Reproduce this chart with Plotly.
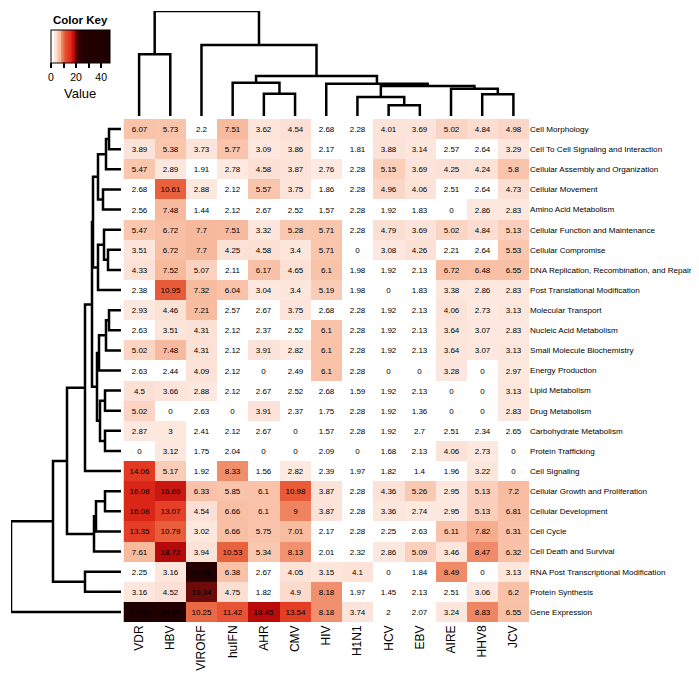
import plotly.graph_objects as go

FONT = "Liberation Sans, Arial, Helvetica, sans-serif"

columns = ["VDR", "HBV", "VIRORF", "huIFN", "AHR", "CMV", "HIV", "H1N1",
           "HCV", "EBV", "AIRE", "HHV8", "JCV"]

rows = ["Cell Morphology", "Cell To Cell Signaling and Interaction",
        "Cellular Assembly and Organization", "Cellular Movement",
        "Amino Acid Metabolism", "Cellular Function and Maintenance",
        "Cellular Compromise", "DNA Replication, Recombination, and Repair",
        "Post Translational Modification", "Molecular Transport",
        "Nucleic Acid Metabolism", "Small Molecule Biochemistry",
        "Energy Production", "Lipid Metabolism", "Drug Metabolism",
        "Carbohydrate Metabolism", "Protein Trafficking", "Cell Signaling",
        "Cellular Growth and Proliferation", "Cellular Development",
        "Cell Cycle", "Cell Death and Survival",
        "RNA Post Transcriptional Modification", "Protein Synthesis",
        "Gene Expression"]

values = [
    [6.07, 5.73, 2.2, 7.51, 3.62, 4.54, 2.68, 2.28, 4.01, 3.69, 5.02, 4.84, 4.98],
    [3.89, 5.38, 3.73, 5.77, 3.09, 3.86, 2.17, 1.81, 3.88, 3.14, 2.57, 2.64, 3.29],
    [5.47, 2.89, 1.91, 2.78, 4.58, 3.87, 2.76, 2.28, 5.15, 3.69, 4.25, 4.24, 5.8],
    [2.68, 10.61, 2.88, 2.12, 5.57, 3.75, 1.86, 2.28, 4.96, 4.06, 2.51, 2.64, 4.73],
    [2.56, 7.48, 1.44, 2.12, 2.67, 2.52, 1.57, 2.28, 1.92, 1.83, 0, 2.86, 2.83],
    [5.47, 6.72, 7.7, 7.51, 3.32, 5.28, 5.71, 2.28, 4.79, 3.69, 5.02, 4.84, 5.13],
    [3.51, 6.72, 7.7, 4.25, 4.58, 3.4, 5.71, 0, 3.08, 4.26, 2.21, 2.64, 5.53],
    [4.33, 7.52, 5.07, 2.11, 6.17, 4.65, 6.1, 1.98, 1.92, 2.13, 6.72, 6.48, 6.55],
    [2.38, 10.95, 7.32, 6.04, 3.04, 3.4, 5.19, 1.98, 0, 1.83, 3.38, 2.86, 2.83],
    [2.93, 4.46, 7.21, 2.57, 2.67, 3.75, 2.68, 2.28, 1.92, 2.13, 4.06, 2.73, 3.13],
    [2.63, 3.51, 4.31, 2.12, 2.37, 2.52, 6.1, 2.28, 1.92, 2.13, 3.64, 3.07, 2.83],
    [5.02, 7.48, 4.31, 2.12, 3.91, 2.82, 6.1, 2.28, 1.92, 2.13, 3.64, 3.07, 3.13],
    [2.63, 2.44, 4.09, 2.12, 0, 2.49, 6.1, 2.28, 0, 0, 3.28, 0, 2.97],
    [4.5, 3.66, 2.88, 2.12, 2.67, 2.52, 2.68, 1.59, 1.92, 2.13, 0, 0, 3.13],
    [5.02, 0, 2.63, 0, 3.91, 2.37, 1.75, 2.28, 1.92, 1.36, 0, 0, 2.83],
    [2.87, 3, 2.41, 2.12, 2.67, 0, 1.57, 2.28, 1.92, 2.7, 2.51, 2.34, 2.65],
    [0, 3.12, 1.75, 2.04, 0, 0, 2.09, 0, 1.68, 2.13, 4.06, 2.73, 0],
    [14.06, 5.17, 1.92, 8.33, 1.56, 2.82, 2.39, 1.97, 1.82, 1.4, 1.96, 3.22, 0],
    [16.08, 16.86, 6.33, 5.85, 6.1, 10.98, 3.87, 2.28, 4.36, 5.26, 2.95, 5.13, 7.2],
    [16.08, 13.07, 4.54, 6.66, 6.1, 9, 3.87, 2.28, 3.36, 2.74, 2.95, 5.13, 6.81],
    [13.35, 10.79, 3.02, 6.66, 5.75, 7.01, 2.17, 2.28, 2.25, 2.63, 6.11, 7.82, 6.31],
    [7.61, 18.72, 3.94, 10.53, 5.34, 8.13, 2.01, 2.32, 2.86, 5.09, 3.46, 8.47, 6.32],
    [2.25, 3.16, 25.58, 6.38, 2.67, 4.05, 3.15, 4.1, 0, 1.84, 8.49, 0, 3.13],
    [3.16, 4.52, 19.34, 4.75, 1.82, 4.9, 8.18, 1.97, 1.45, 2.13, 2.51, 3.06, 6.2],
    [47.03, 34.95, 10.25, 11.42, 18.45, 13.54, 8.18, 3.74, 2, 2.07, 3.24, 8.83, 6.55],
]

# dendrograms: (merge height, left, right); ints are leaf indices
col_tree = (315, (185, 0, 1),
            (213, 2,
             (120, (100, 3, (67, 4, 5)),
              (97, 6, (90, (57, 7, (32, 8, 9)), (82, 10, (65, 11, 12)))))))

row_tree = (110,
            (68,
             (54,
              (36,
               (29,
                (28, (23, (15, (12, 0, 1), 2), (18, 3, 4)),
                 (23, (17, 5, (13, 6, 7)), 8)),
                (24, (22, (15, (12, 9, 10), 11), 12),
                 (21, (16, 13, 14), (16, 15, 16)))),
               17),
              (27, (25, (16, 18, 19), 20), 21)),
             (36, 22, 23)),
            24)

key_ticks = [0, 10, 20, 30, 40]
key_labels = ["0", "", "20", "", "40"]

# colour ramp: (value, colour)
ramp = [(0, "#ffffff"), (2.70, "#ffffff"), (2.72, "#fde9e0"), (4.8, "#fcdfd3"),
        (5.3, "#fac7af"), (7.7, "#f7b99c"), (8.1, "#f1916f"), (9.5, "#ed7b58"),
        (10.6, "#e9603c"), (12, "#e64a2f"), (14, "#e33a22"), (16, "#dc2818"),
        (17, "#c81410"), (18.7, "#b80a0a"), (19.3, "#6e0a0a"), (22, "#3a0303"),
        (25, "#250000"), (47.03, "#1e0000")]

W, H = 699, 677
zmax = max(max(r) for r in values)
colorscale = [[v / zmax, c] for v, c in ramp]


def dendro_segments(node, segs):
    if isinstance(node, int):
        return float(node), 0.0
    h, l, r = node
    xl, hl = dendro_segments(l, segs)
    xr, hr = dendro_segments(r, segs)
    segs.append(((xl, hl), (xl, h), (xr, h), (xr, hr)))
    return (xl + xr) / 2, h


def to_xy(segs, swap=False):
    xs, ys = [], []
    for seg in segs:
        for a, b in seg:
            if swap:
                xs.append(b); ys.append(a)
            else:
                xs.append(a); ys.append(b)
        xs.append(None); ys.append(None)
    return xs, ys


col_segs, row_segs = [], []
dendro_segments(col_tree, col_segs)
dendro_segments(row_tree, row_segs)
cx, cy = to_xy(col_segs)
rx, ry = to_xy(row_segs, swap=True)

text = [[f"{v:g}" for v in r] for r in values]

fig = go.Figure()
fig.add_trace(go.Heatmap(
    z=values, x=list(range(len(columns))), y=list(range(len(rows))),
    text=text, texttemplate="%{text}",
    textfont=dict(family=FONT, size=8, color="black"),
    colorscale=colorscale, zmin=0, zmax=zmax, hoverinfo="skip",
    colorbar=dict(orientation="h", x=72.5 / W, xanchor="center",
                  y=1 - 22 / H, yanchor="top", len=59, lenmode="pixels",
                  thickness=33, thicknessmode="pixels", xpad=0, ypad=0,
                  outlinewidth=1, outlinecolor="black",
                  tickvals=key_ticks, ticktext=key_labels, ticks="outside",
                  ticklen=5, tickwidth=2, tickcolor="black",
                  tickfont=dict(family=FONT, size=10.5, color="black")),
))
fig.add_trace(go.Scatter(x=cx, y=cy, mode="lines", xaxis="x2", yaxis="y2",
                         line=dict(color="black", width=2.5), hoverinfo="skip",
                         showlegend=False))
fig.add_trace(go.Scatter(x=rx, y=ry, mode="lines", xaxis="x3", yaxis="y3",
                         line=dict(color="black", width=2.5), hoverinfo="skip",
                         showlegend=False))

gx0, gx1 = 115.5 / W, 521 / W
gy0, gy1 = 1 - 614 / H, 1 - 111 / H

fig.update_layout(
    width=W, height=H, margin=dict(l=0, r=0, t=0, b=0),
    paper_bgcolor="white", plot_bgcolor="white", showlegend=False,
    xaxis=dict(domain=[gx0, gx1], range=[-0.5, len(columns) - 0.5],
               tickvals=list(range(len(columns))), ticktext=columns,
               tickangle=-90, ticks="", showgrid=False, zeroline=False,
               tickfont=dict(family=FONT, size=12, color="black")),
    yaxis=dict(domain=[gy0, gy1], range=[len(rows) - 0.5, -0.5], side="right",
               tickvals=list(range(len(rows))), ticktext=rows, ticks="",
               showgrid=False, zeroline=False,
               tickfont=dict(family=FONT, size=8.1, color="black")),
    xaxis2=dict(domain=[gx0, gx1], range=[-0.5, len(columns) - 0.5],
                visible=False, anchor="y2"),
    yaxis2=dict(domain=[1 - 108 / H, 1 - 3 / H], range=[0, col_tree[0]],
                visible=False, anchor="x2"),
    xaxis3=dict(domain=[3 / W, 113 / W], range=[row_tree[0], 0],
                visible=False, anchor="y3"),
    yaxis3=dict(domain=[gy0, gy1], range=[len(rows) - 0.5, -0.5],
                visible=False, anchor="x3"),
    annotations=[
        dict(text="<b>Color Key</b>", x=72 / W, y=1 - 12 / H, xref="paper",
             yref="paper", showarrow=False, xanchor="center", yanchor="middle",
             font=dict(family=FONT, size=11.5, color="black")),
        dict(text="Value", x=72 / W, y=1 - 85 / H, xref="paper",
             yref="paper", showarrow=False, xanchor="center", yanchor="middle",
             font=dict(family=FONT, size=13, color="black")),
    ],
)

fig.write_html("out.html")
